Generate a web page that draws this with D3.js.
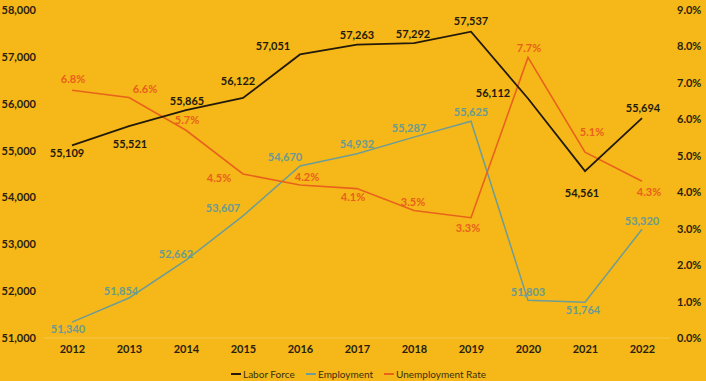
<!DOCTYPE html>
<html><head><meta charset="utf-8">
<script src="https://cdn.jsdelivr.net/npm/d3@7"></script>
<style>
html,body{margin:0;padding:0;background:#F5B818;}
svg{display:block;font-family:Lato,"Open Sans",sans-serif;}
</style></head>
<body><svg id="c" width="706" height="381"></svg>
<script>
const years = [2012,2013,2014,2015,2016,2017,2018,2019,2020,2021,2022];
const laborForce = [55109,55521,55865,56122,57051,57263,57292,57537,56112,54561,55694];
const employment = [51340,51854,52662,53607,54670,54932,55287,55625,51803,51764,53320];
const unemploymentRate = [6.8,6.6,5.7,4.5,4.2,4.1,3.5,3.3,7.7,5.1,4.3];
const leftTicks = [51000,52000,53000,54000,55000,56000,57000,58000];
const rightTicks = [0,1,2,3,4,5,6,7,8,9];
const seriesNames = ["Labor Force","Employment","Unemployment Rate"];

// label placement (layout, not data)
const laborLabelOff = [[-5,7],[1,17],[1,-10],[-5,-17],[-27,-9],[0,-10],[-1,-10],[0,-11],[-35,-6],[-3,21],[1,-11]];
const emplLabelOff  = [[-4,6],[-8,-7],[-10,-7],[-20,-8],[-15,-10],[0,-10],[-5,-10],[0,-10],[0,-9],[-2,7],[0,-9]];
const rateLabelOff  = [[1,-12],[16,-9],[1,-11],[-24,3],[7,-8],[-4,8],[-1,-9],[-3,10],[1,-10],[7,-21],[7,10]];

const svg = d3.select("#c");
const x = d3.scalePoint().domain(years).range([43.5,670.5]).padding(0.5);
const yL = d3.scaleLinear().domain([51000,58000]).range([338,10]);
const yR = d3.scaleLinear().domain([0,9]).range([338,10]);

const cLabor = "#231a0c", cEmpl = "#6e9c96", cRate = "#E8621C";
const cLaborTxt = "#231a0c", cEmplTxt = "#6a9a92", cRateTxt = "#E8601C";

// baseline
svg.append("line").attr("x1",43.5).attr("x2",670.5).attr("y1",yL(51000)).attr("y2",yL(51000))
  .attr("stroke","#F8C94A").attr("stroke-width",1);

function styleAxis(g){
  g.select(".domain").remove();
  g.selectAll("text").attr("font-size","11px").attr("font-weight","bold").attr("fill","#2a2010").attr("font-family","Lato");
}
svg.append("g").attr("transform","translate(36,0)")
  .call(d3.axisLeft(yL).tickValues(leftTicks).tickFormat(d3.format(",")).tickSize(0).tickPadding(0)).call(styleAxis);
svg.append("g").attr("transform","translate(677,0)")
  .call(d3.axisRight(yR).tickValues(rightTicks).tickFormat(d=>d.toFixed(1)+"%").tickSize(0).tickPadding(0)).call(styleAxis);
svg.append("g").attr("transform","translate(0,345)")
  .call(d3.axisBottom(x).tickSize(0).tickPadding(0).tickFormat(d3.format("d"))).call(styleAxis);

function drawSeries(vals, yScale, color, width){
  const line = d3.line().x((d,i)=>x(years[i])).y(d=>yScale(d));
  svg.append("path").datum(vals).attr("d",line).attr("fill","none")
    .attr("stroke",color).attr("stroke-width",width).attr("stroke-linejoin","miter");
}
drawSeries(employment, yL, cEmpl, 1.5);
drawSeries(unemploymentRate, yR, cRate, 1.6);
drawSeries(laborForce, yL, cLabor, 1.8);

function drawLabels(vals, yScale, offs, color, fmt){
  svg.append("g").selectAll("text").data(vals).join("text")
    .attr("x",(d,i)=>x(years[i])+offs[i][0])
    .attr("y",(d,i)=>yScale(d)+offs[i][1])
    .attr("text-anchor","middle").attr("dominant-baseline","central")
    .attr("font-size","11px").attr("font-weight","bold").attr("fill",color)
    .text(fmt);
}
drawLabels(laborForce, yL, laborLabelOff, cLaborTxt, d3.format(","));
drawLabels(employment, yL, emplLabelOff, cEmplTxt, d3.format(","));
drawLabels(unemploymentRate, yR, rateLabelOff, cRateTxt, d=>d.toFixed(1)+"%");

// legend
const legendColors = [cLabor, cEmpl, cRate];
const legendX = [231, 306, 384];
const lg = svg.append("g");
seriesNames.forEach((n,i)=>{
  lg.append("line").attr("x1",legendX[i]).attr("x2",legendX[i]+10).attr("y1",374).attr("y2",374)
    .attr("stroke",legendColors[i]).attr("stroke-width",2);
  lg.append("text").attr("x",legendX[i]+12).attr("y",374).attr("dominant-baseline","central")
    .attr("font-size","10px").attr("fill","#3a2e10").text(n);
});
</script></body></html>
